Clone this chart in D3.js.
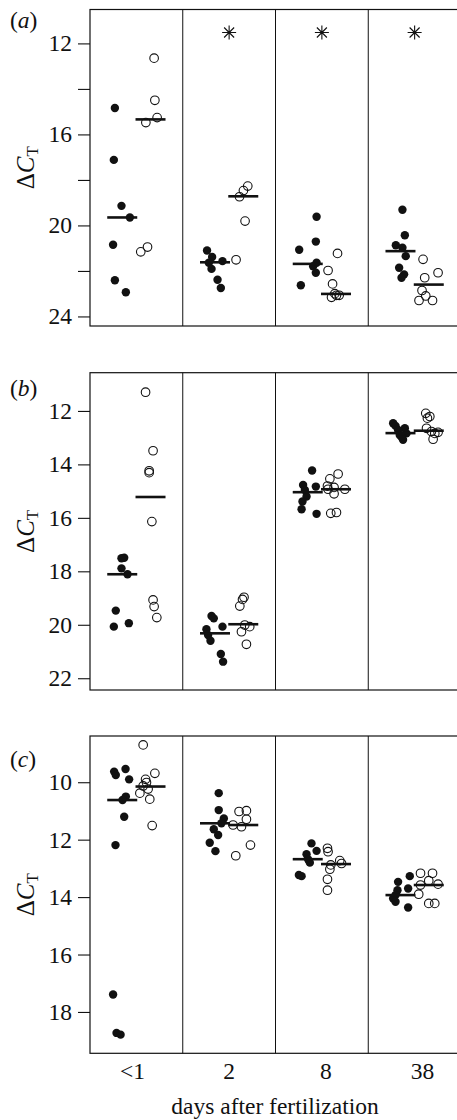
<!DOCTYPE html>
<html>
<head>
<meta charset="utf-8">
<script src="https://cdn.jsdelivr.net/npm/d3@7"></script>
<style>
  body { margin: 0; background: #fff; }
  svg text { font-family: "Liberation Serif", "DejaVu Serif", serif; fill: #111; }
</style>
</head>
<body>
<div id="container"></div>
<script>
// categories
const days = ["<1", "2", "8", "38"];
const series = ["closed", "open"];

// panel (a)
const aClosed = [
    [14.84, 17.12, 19.14, 19.65, 20.85, 22.41, 22.94],
    [21.10, 21.39, 21.57, 21.64, 21.91, 22.39, 22.75],
    [19.62, 20.71, 21.07, 21.64, 21.79, 22.08, 22.63],
    [19.31, 20.43, 20.87, 20.98, 21.35, 21.86, 22.15, 22.30]
];
const aClosedJitter = [
    [-0.49, -0.56, -0.05, 0.51, -0.61, -0.49, 0.24],
    [-0.53, -0.19, 0.50, -0.41, -0.23, 0.17, 0.39],
    [0.59, 0.54, -0.57, 0.59, 0.36, 0.54, -0.46],
    [0.13, 0.29, -0.31, 0.13, 0.35, -0.09, 0.24, 0.07]
];
const aOpen = [
    [12.65, 14.50, 15.26, 15.48, 20.95, 21.16],
    [18.27, 18.47, 18.74, 19.81, 21.51],
    [21.23, 21.98, 22.57, 23.00, 23.07, 23.07, 23.16],
    [21.49, 22.08, 22.30, 22.86, 23.10, 23.30, 23.30]
];
const aOpenJitter = [
    [0.24, 0.29, 0.44, -0.31, -0.20, -0.65],
    [0.30, 0.01, -0.25, 0.12, -0.48],
    [0.10, -0.53, -0.23, -0.08, 0.03, 0.21, -0.30],
    [-0.38, 0.62, -0.27, -0.45, -0.20, -0.65, 0.25]
];
const aClosedMid = [19.65, 21.62, 21.69, 21.13];
const aOpenMid = [15.34, 18.72, 23.01, 22.60];
const aSignificant = [false, true, true, true];
const aTicks = [12, 14, 16, 18, 20, 22, 24];
const aTickLabels = [12, 16, 20, 24];

// panel (b)
const bClosed = [
    [17.49, 17.51, 17.89, 18.11, 19.47, 19.94, 20.07],
    [19.67, 19.76, 20.07, 20.17, 20.38, 20.60, 21.09, 21.38],
    [14.23, 14.77, 14.83, 14.96, 15.20, 15.39, 15.68, 15.85],
    [12.46, 12.56, 12.65, 12.71, 12.84, 12.90, 12.98, 13.08]
];
const bClosedJitter = [
    [0.13, -0.05, -0.05, 0.35, -0.43, 0.44, -0.56],
    [-0.23, -0.08, 0.50, -0.57, -0.46, -0.30, 0.39, 0.54],
    [0.29, -0.31, 0.54, -0.19, -0.08, -0.35, -0.41, 0.59],
    [-0.49, -0.33, 0.29, -0.16, 0.40, -0.05, 0.07, 0.17]
];
const bOpen = [
    [11.30, 13.49, 14.24, 14.31, 16.14, 19.07, 19.32, 19.73],
    [18.97, 19.05, 19.30, 20.01, 20.07, 20.26, 20.73],
    [14.36, 14.54, 14.81, 14.86, 14.93, 14.93, 15.10, 15.80, 15.83],
    [12.09, 12.21, 12.27, 12.65, 12.77, 12.80, 12.84, 13.06]
];
const bOpenJitter = [
    [-0.33, 0.17, -0.09, -0.09, 0.09, 0.17, 0.24, 0.42],
    [0.05, -0.05, -0.23, 0.10, 0.43, -0.12, 0.21],
    [0.14, -0.41, -0.57, -0.13, 0.59, -0.53, -0.13, 0.03, -0.35],
    [-0.20, 0.07, -0.09, -0.15, 0.18, 0.62, 0.40, 0.29]
];
const bClosedMid = [18.11, 20.32, 15.04, 12.83];
const bOpenMid = [15.22, 19.98, 14.93, 12.74];
const bSignificant = [false, false, false, false];
const bTicks = [12, 14, 16, 18, 20, 22];
const bTickLabels = bTicks;

// panel (c)
const cClosed = [
    [9.54, 9.63, 9.75, 9.90, 10.50, 10.62, 11.20, 12.19, 17.39, 18.73, 18.79],
    [10.38, 10.97, 11.26, 11.43, 11.64, 11.84, 12.11, 12.40],
    [12.13, 12.39, 12.51, 12.69, 12.80, 13.23, 13.27],
    [13.27, 13.47, 13.70, 13.76, 13.93, 14.05, 14.16, 14.36]
];
const cClosedJitter = [
    [0.22, -0.54, -0.43, 0.46, 0.24, 0.02, 0.13, -0.45, -0.61, -0.38, -0.11],
    [0.25, 0.25, 0.59, 0.43, -0.08, 0.21, -0.35, 0.03],
    [0.25, 0.59, -0.08, 0.03, 0.14, -0.59, -0.41],
    [0.62, -0.16, 0.51, -0.20, -0.33, -0.49, -0.33, 0.51]
];
const cOpen = [
    [8.70, 9.69, 9.90, 10.01, 10.13, 10.24, 10.38, 10.59, 11.51],
    [10.99, 11.02, 11.29, 11.49, 11.55, 12.19, 12.56],
    [12.30, 12.42, 12.73, 12.83, 12.88, 13.03, 13.38, 13.76],
    [13.17, 13.17, 13.43, 13.55, 13.58, 13.90, 14.22, 14.22]
];
const cOpenJitter = [
    [-0.49, 0.29, -0.33, -0.27, -0.49, -0.16, -0.71, -0.05, 0.11],
    [0.21, -0.28, 0.21, -0.68, -0.12, 0.48, -0.50],
    [-0.57, -0.53, 0.25, 0.37, -0.35, -0.41, -0.57, -0.57],
    [-0.55, 0.25, 0.00, 0.62, -0.55, -0.67, 0.00, 0.40]
];
const cClosedMid = [10.62, 11.43, 12.68, 13.93];
const cOpenMid = [10.15, 11.49, 12.85, 13.58];
const cSignificant = [false, false, false, false];
const cTicks = [10, 12, 14, 16, 18];
const cTickLabels = cTicks;

const xTitle = "days after fertilization";

// layout
const w = 457;
const h = 1120;
const left = 90;
const right = 461;
const fontSize = 23.5;

const panels = [
    { name: "a", closed: aClosed, closedJitter: aClosedJitter, open: aOpen, openJitter: aOpenJitter,
      closedMid: aClosedMid, openMid: aOpenMid, significant: aSignificant,
      ticks: aTicks, tickLabels: aTickLabels, domain: [10.51, 24.42], top: 9.5, bottom: 326 },
    { name: "b", closed: bClosed, closedJitter: bClosedJitter, open: bOpen, openJitter: bOpenJitter,
      closedMid: bClosedMid, openMid: bOpenMid, significant: bSignificant,
      ticks: bTicks, tickLabels: bTickLabels, domain: [10.57, 22.44], top: 372.7, bottom: 690 },
    { name: "c", closed: cClosed, closedJitter: cClosedJitter, open: cOpen, openJitter: cOpenJitter,
      closedMid: cClosedMid, openMid: cOpenMid, significant: cSignificant,
      ticks: cTicks, tickLabels: cTickLabels, domain: [8.39, 19.44], top: 736, bottom: 1053.3 }
];

const svg = d3.select('#container').append('svg')
    .attr('width', w)
    .attr('height', h);

const xScale = d3.scaleBand().domain(days).range([left, right]);
const subScale = d3.scalePoint().domain(series).range([0, xScale.bandwidth()]).padding(1.14);
const jitterScale = d3.scaleLinear().domain([-1, 1]).range([-15, 15]);
const halfLine = 15;

const centre = (day, s) => xScale(day) + subScale(s);

panels.forEach(p => {
    const yScale = d3.scaleLinear().domain(p.domain).range([p.top, p.bottom]);
    const g = svg.append('g').attr('class', 'panel-' + p.name);

    // frame and dividers
    g.append('rect')
        .attr('x', left)
        .attr('y', p.top)
        .attr('width', right - left)
        .attr('height', p.bottom - p.top)
        .attr('fill', 'none')
        .attr('stroke', '#111')
        .attr('stroke-width', 1.2);

    g.selectAll('.divider')
        .data(days.slice(1))
        .enter()
        .append('line')
        .attr('x1', d => xScale(d))
        .attr('x2', d => xScale(d))
        .attr('y1', p.top)
        .attr('y2', p.bottom)
        .attr('stroke', '#111')
        .attr('stroke-width', 1);

    // y axis
    const yAxis = d3.axisLeft(yScale)
        .tickValues(p.ticks)
        .tickSize(12)
        .tickPadding(6)
        .tickFormat(d => p.tickLabels.includes(d) ? d : "");

    const ya = g.append('g')
        .attr('transform', 'translate(' + left + ',0)')
        .call(yAxis);
    ya.select('.domain').remove();
    ya.selectAll('line').attr('stroke', '#111').attr('stroke-width', 1.1);
    ya.selectAll('text')
        .attr('font-size', fontSize)
        .attr('font-family', '"Liberation Serif", serif')
        .attr('fill', '#111');

    // points
    const points = [];
    days.forEach((day, i) => {
        p.closed[i].forEach((v, j) => points.push({ day, s: "closed", v, jit: p.closedJitter[i][j] }));
        p.open[i].forEach((v, j) => points.push({ day, s: "open", v, jit: p.openJitter[i][j] }));
    });

    g.selectAll('.pt')
        .data(points)
        .enter()
        .append('circle')
        .attr('class', 'pt')
        .attr('cx', d => centre(d.day, d.s) + jitterScale(d.jit))
        .attr('cy', d => yScale(d.v))
        .attr('r', d => d.s === "closed" ? 4.2 : 4.3)
        .attr('fill', d => d.s === "closed" ? '#111' : 'none')
        .attr('stroke', d => d.s === "closed" ? 'none' : '#111')
        .attr('stroke-width', 1.1);

    // central lines
    const mids = [];
    days.forEach((day, i) => {
        mids.push({ day, s: "closed", v: p.closedMid[i] });
        mids.push({ day, s: "open", v: p.openMid[i] });
    });

    g.selectAll('.mid')
        .data(mids)
        .enter()
        .append('line')
        .attr('x1', d => centre(d.day, d.s) - halfLine)
        .attr('x2', d => centre(d.day, d.s) + halfLine)
        .attr('y1', d => yScale(d.v))
        .attr('y2', d => yScale(d.v))
        .attr('stroke', '#111')
        .attr('stroke-width', 2.6);

    // significance asterisks
    g.selectAll('.star')
        .data(days.filter((d, i) => p.significant[i]))
        .enter()
        .append('path')
        .attr('transform', d => 'translate(' + (xScale(d) + xScale.bandwidth() / 2) + ',' + (p.top + 23) + ')')
        .attr('d', () => {
            const path = d3.path();
            const r = 7, q = 5;
            path.moveTo(-r, 0); path.lineTo(r, 0);
            path.moveTo(0, -r); path.lineTo(0, r);
            path.moveTo(-q, -q); path.lineTo(q, q);
            path.moveTo(-q, q); path.lineTo(q, -q);
            return path.toString();
        })
        .attr('stroke', '#111')
        .attr('stroke-width', 1.1)
        .attr('fill', 'none');

    // panel letter
    const lab = g.append('text')
        .attr('x', 10)
        .attr('y', yScale(p.ticks[0]) - 15)
        .attr('font-size', fontSize);
    lab.append('tspan').text('(');
    lab.append('tspan').attr('font-style', 'italic').text(p.name);
    lab.append('tspan').text(')');

    // y title
    const yt = g.append('text')
        .attr('transform', 'translate(34,' + ((p.top + p.bottom) / 2) + ') rotate(-90)')
        .attr('text-anchor', 'middle')
        .attr('font-size', 25);
    yt.append('tspan').text('Δ');
    yt.append('tspan').attr('font-style', 'italic').text('C');
    yt.append('tspan').attr('font-size', 17).attr('dy', 4).text('T');
});

// x axis labels on the bottom panel
const last = panels[panels.length - 1];
const xLabelScale = d3.scalePoint().domain(days).range([132, 422]);
const xAxis = d3.axisBottom(xLabelScale).tickSize(0).tickPadding(9);
const xa = svg.append('g')
    .attr('transform', 'translate(0,' + last.bottom + ')')
    .call(xAxis);
xa.select('.domain').remove();
xa.selectAll('text')
    .attr('font-size', fontSize)
    .attr('font-family', '"Liberation Serif", serif')
    .attr('fill', '#111');

svg.append('text')
    .attr('x', 275)
    .attr('y', 1114)
    .attr('text-anchor', 'middle')
    .attr('font-size', fontSize)
    .text(xTitle);
</script>
</body>
</html>
